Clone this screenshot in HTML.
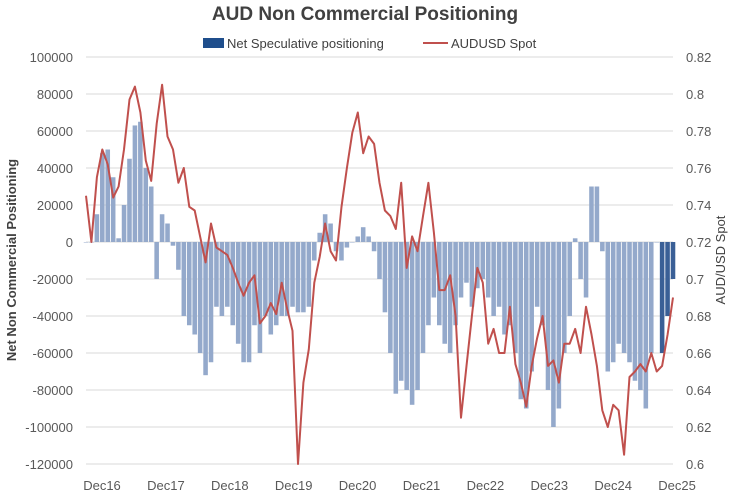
<!DOCTYPE html>
<html><head><meta charset="utf-8">
<style>
html,body{margin:0;padding:0;background:#fff;}
svg{display:block;font-family:"Liberation Sans",sans-serif;}
</style></head>
<body>
<svg id="chart" width="731" height="502" viewBox="0 0 731 502" xmlns="http://www.w3.org/2000/svg">
<text x="365" y="20" text-anchor="middle" font-size="19" font-weight="bold" fill="#404040">AUD Non Commercial Positioning</text>
<g>
<rect x="203" y="38" width="21" height="10" fill="#1f4e8c"/>
<text x="227" y="48" font-size="13" fill="#404040">Net Speculative positioning</text>
<line x1="423" y1="43" x2="448" y2="43" stroke="#c0504d" stroke-width="2"/>
<text x="451" y="48" font-size="13" fill="#404040">AUDUSD Spot</text>
</g>
<g id="grid"></g>
<g id="bars"></g>
<g id="line"></g>
<g id="axes"></g>
<text transform="translate(16,260) rotate(-90)" text-anchor="middle" font-size="13" font-weight="bold" fill="#404040">Net Non Commercial Positioning</text>
<text transform="translate(725,260) rotate(-90)" text-anchor="middle" font-size="13" fill="#404040">AUD/USD Spot</text>
</svg>
<script>
const months = 109; // Dec16 .. Dec25 monthly
const xLabels = ["Dec16","Dec17","Dec18","Dec19","Dec20","Dec21","Dec22","Dec23","Dec24","Dec25"];
const leftTicks = [100000,80000,60000,40000,20000,0,-20000,-40000,-60000,-80000,-100000,-120000];
const rightTicks = ["0.82","0.8","0.78","0.76","0.74","0.72","0.7","0.68","0.66","0.64","0.62","0.6"];
const positioning = [
 0,0,15000,48000,50000,35000,2000,20000,45000,63000,65000,40000,
 30000,-20000,15000,10000,-2000,-15000,-40000,-45000,-50000,-60000,-72000,-65000,
 -35000,-40000,-35000,-45000,-55000,-65000,-65000,-45000,-60000,-40000,-50000,-45000,
 -40000,-40000,-35000,-38000,-38000,-35000,-10000,5000,15000,10000,-5000,-10000,
 -3000,0,3000,8000,3000,-5000,-20000,-38000,-60000,-82000,-75000,-80000,
 -88000,-80000,-60000,-45000,-30000,-45000,-55000,-60000,-45000,-30000,-22000,-35000,
 -25000,-20000,-30000,-40000,-35000,-50000,-45000,-60000,-85000,-90000,-70000,-35000,
 -45000,-80000,-100000,-90000,-60000,-40000,2000,-20000,-30000,30000,30000,-5000,
 -70000,-65000,-55000,-60000,-65000,-75000,-80000,-90000,-60000,0,-60000,-40000,
 -20000];
const audusd = [
 0.745,0.72,0.755,0.77,0.762,0.744,0.75,0.77,0.797,0.804,0.79,0.764,
 0.753,0.784,0.805,0.777,0.77,0.752,0.76,0.739,0.737,0.723,0.709,0.73,
 0.717,0.715,0.713,0.706,0.698,0.691,0.698,0.702,0.676,0.68,0.687,0.681,
 0.698,0.684,0.672,0.60,0.644,0.662,0.698,0.712,0.73,0.715,0.71,0.739,
 0.76,0.779,0.79,0.768,0.777,0.773,0.752,0.737,0.734,0.727,0.752,0.706,
 0.723,0.715,0.734,0.752,0.725,0.694,0.694,0.702,0.68,0.625,0.653,0.68,
 0.706,0.698,0.665,0.673,0.66,0.66,0.685,0.654,0.644,0.631,0.653,0.668,
 0.68,0.653,0.656,0.644,0.665,0.665,0.673,0.66,0.685,0.67,0.653,0.629,
 0.62,0.632,0.629,0.605,0.647,0.65,0.654,0.65,0.66,0.65,0.653,0.67,
 0.69];

const NS="http://www.w3.org/2000/svg";
const X0=86, X1=673, YT=57, YB=464;
function xPos(i){ return X0 + i*(X1-X0)/(months-1); }
function yLeft(v){ return YT + (100000 - v)/220000*(YB-YT); }
function yRight(v){ return YT + (0.82 - v)/0.22*(YB-YT); }
function mk(tag, attrs, parent){
  const e=document.createElementNS(NS,tag);
  for(const k in attrs) e.setAttribute(k,attrs[k]);
  parent.appendChild(e); return e;
}
const grid=document.getElementById('grid'), axes=document.getElementById('axes');
leftTicks.forEach((t,i)=>{
  const y=yLeft(t);
  const g=mk('line',{x1:X0,x2:X1,y1:y,y2:y,stroke:'#d9d9d9','stroke-width':1},grid);
  
  
  const tl=mk('text',{x:73,y:y+5,'text-anchor':'end','font-size':13,fill:'#595959'},axes);
  tl.textContent=t;
  
  
  const tr=mk('text',{x:686,y:y+5,'font-size':13,fill:'#595959'},axes);
  tr.textContent=rightTicks[i];
  
  
});
xLabels.forEach((l,i)=>{
  const t=mk('text',{x:102+i*63.9,y:490,'text-anchor':'middle','font-size':13,fill:'#595959'},axes);
  t.textContent=l;
  
  
});
const bars=document.getElementById('bars');
const slot=(X1-X0)/(months-1);
positioning.forEach((v,i)=>{
  const y0=yLeft(0), y=yLeft(v);
  const dark = i>=months-3;
  const r=mk('rect',{x:xPos(i)-slot*0.42,y:Math.min(y,y0),width:slot*0.84,height:Math.max(Math.abs(y-y0),0.5),fill:dark?'#3a5f96':'#94a9cb'},bars);
  
  
});
const lg=document.getElementById('line');
const d=audusd.map((v,i)=>(i?'L':'M')+xPos(i).toFixed(1)+','+yRight(v).toFixed(1)).join(' ');
const p=mk('path',{d:d,fill:'none',stroke:'#c0504d','stroke-width':2,'stroke-linejoin':'round'},lg);


</script>
</body></html>
